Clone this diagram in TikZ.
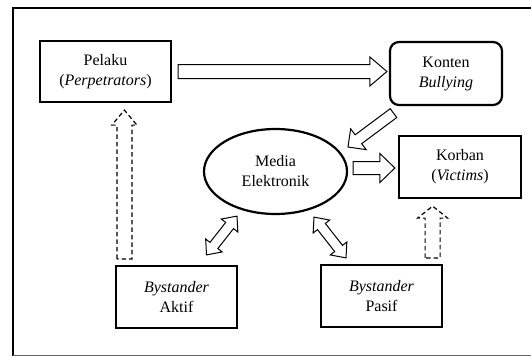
\documentclass[tikz,border=0pt]{standalone}
\usepackage{fontspec}
\setmainfont{Liberation Serif}
\usetikzlibrary{calc, positioning, shapes.geometric}

% hollow block arrow: [style] {tail} {tip} {shaft half width} {head half width} {head length}
\newcommand{\blockarrow}[6][]{%
  \coordinate (ba-s) at #2;
  \coordinate (ba-e) at #3;
  \coordinate (ba-n) at ($(ba-e)!#6!(ba-s)$);
  \draw[#1] ($(ba-s)!#4!90:(ba-e)$) -- ($(ba-n)!#4!-90:(ba-s)$) -- ($(ba-n)!#5!-90:(ba-s)$)
    -- (ba-e) -- ($(ba-n)!#5!90:(ba-s)$) -- ($(ba-n)!#4!90:(ba-s)$) -- ($(ba-s)!#4!-90:(ba-e)$) -- cycle;
}
% hollow block arrow with two heads
\newcommand{\twowayarrow}[6][]{%
  \coordinate (ta-s) at #2;
  \coordinate (ta-e) at #3;
  \coordinate (ta-m) at ($(ta-s)!#6!(ta-e)$);
  \coordinate (ta-n) at ($(ta-e)!#6!(ta-s)$);
  \draw[#1] (ta-s) -- ($(ta-m)!#5!90:(ta-e)$) -- ($(ta-m)!#4!90:(ta-e)$) -- ($(ta-n)!#4!-90:(ta-s)$)
    -- ($(ta-n)!#5!-90:(ta-s)$) -- (ta-e) -- ($(ta-n)!#5!90:(ta-s)$) -- ($(ta-n)!#4!90:(ta-s)$)
    -- ($(ta-m)!#4!-90:(ta-e)$) -- ($(ta-m)!#5!-90:(ta-e)$) -- cycle;
}

\begin{document}
\begin{tikzpicture}[x=1pt, y=-1pt,
    box/.style={draw, line width=2.2pt, align=center, inner sep=0pt,
      font=\fontsize{16}{20}\selectfont},
    blockline/.style={line width=1pt, line join=miter},
    dashline/.style={blockline, line width=1.2pt, dash pattern=on 4.5pt off 3pt}]
  \useasboundingbox (0,0) rectangle (531,356);

  % frame
  \draw[line width=2pt] (13,356) -- (13,8) -- (540,8);
  \draw[black!60, line width=0.8pt] (13,355.4) -- (540,355.4);

  \node[box, minimum width=131, minimum height=61] (pelaku) at (105.5, 71.5) {Pelaku\\(\textit{Perpetrators})};
  \node[box, rounded corners=9pt, minimum width=112, minimum height=63] (konten) at (446, 73.5) {Konten\\\textit{Bullying}};
  \node[box, minimum width=122, minimum height=62] (korban) at (460, 167) {Korban\\(\textit{Victims})};
  \node[box, ellipse, minimum width=143, minimum height=85] (media) at (275.5, 171.5) {Media\\Elektronik};
  \node[box, minimum width=121, minimum height=62] (aktif) at (176.5, 297) {\textit{Bystander}\\Aktif};
  \node[box, minimum width=121, minimum height=62] (pasif) at (381.5, 296) {\textit{Bystander}\\Pasif};

  \blockarrow[blockline]{($(pelaku.east)+(6,0)$)}{($(pelaku.east -| konten.west)+(-2,0)$)}{7pt}{14.5pt}{17pt}
  \blockarrow[blockline]{($(konten.south)+(-52.5,7)$)}{($(media.center)+(72.5,-24.5)$)}{5.5pt}{13pt}{13pt}
  \blockarrow[blockline]{($(korban.west -| media.east)+(5,1)$)}{($(korban.west)+(-3,1)$)}{6.5pt}{14.5pt}{15pt}

  \coordinate (up1) at ($(aktif.north west)+(9.5,-6)$);
  \blockarrow[dashline]{(up1)}{($(up1 |- pelaku.south)+(0,7)$)}{7.5pt}{12.5pt}{15pt}
  \coordinate (up2) at ($(pasif.north east)+(-10.5,-6)$);
  \blockarrow[dashline]{(up2)}{($(up2 |- korban.south)+(0,7)$)}{7.5pt}{15pt}{12pt}

  \twowayarrow[blockline]{($(aktif.north)+(30,-10)$)}{($(media.south)+(-38.5,1)$)}{5pt}{10.5pt}{12pt}
  \twowayarrow[blockline]{($(media.south)+(38.5,2)$)}{($(pasif.north)+(-35.5,-6)$)}{5pt}{10.5pt}{12pt}
\end{tikzpicture}
\end{document}
